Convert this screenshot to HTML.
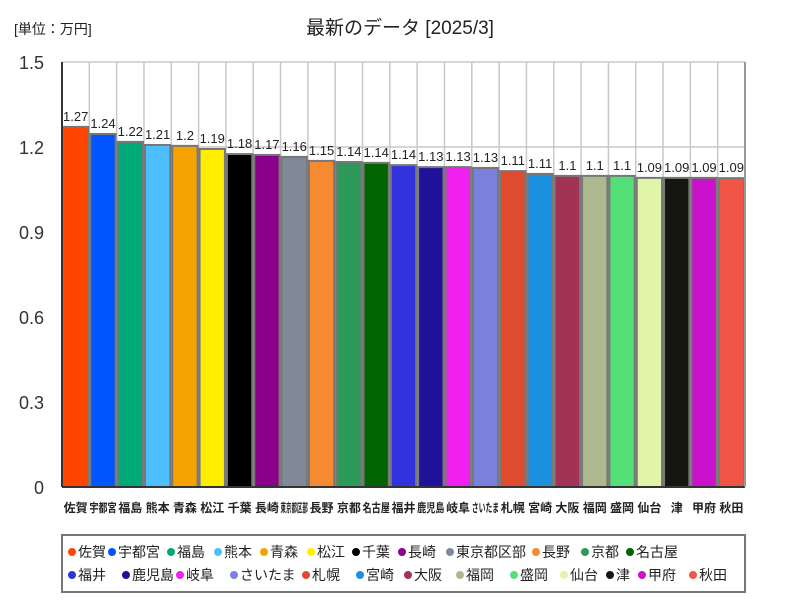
<!DOCTYPE html>
<html><head><meta charset="utf-8"><style>
body{margin:0;background:#fff;font-family:"Liberation Sans","Noto Sans CJK JP",sans-serif;}
svg text{font-family:"Liberation Sans","Noto Sans CJK JP",sans-serif;}
</style></head><body>
<svg id="c" width="800" height="600" xmlns="http://www.w3.org/2000/svg">
<text x="400" y="34" text-anchor="middle" font-size="19" fill="#222">最新のデータ [2025/3]</text>
<text x="14" y="34" font-size="14" fill="#222">[単位：万円]</text>
<g id="plot"></g>
<rect x="62" y="535" width="683" height="57" fill="#fff" stroke="#777" stroke-width="2"/>
<g id="leg"></g>
</svg>
<script>
const categories=["佐賀","宇都宮","福島","熊本","青森","松江","千葉","長崎","東京都区部","長野","京都","名古屋","福井","鹿児島","岐阜","さいたま","札幌","宮崎","大阪","福岡","盛岡","仙台","津","甲府","秋田"].slice(0,24).length?["佐賀","宇都宮","福島","熊本","青森","松江","千葉","長崎","東京都区部","長野","京都","名古屋","福井","鹿児島","岐阜","さいたま","札幌","宮崎","大阪","福岡","盛岡","仙台","津","甲府","秋田"]:[];
const values=[1.271,1.246,1.218,1.207,1.204,1.193,1.175,1.172,1.165,1.151,1.147,1.144,1.136,1.129,1.129,1.126,1.115,1.105,1.098,1.098,1.098,1.091,1.091,1.091,1.09];
const valueLabels=["1.27","1.24","1.22","1.21","1.2","1.19","1.18","1.17","1.16","1.15","1.14","1.14","1.14","1.13","1.13","1.13","1.11","1.11","1.1","1.1","1.1","1.09","1.09","1.09","1.09"];
const colors=["#ff4500","#0055ff","#00aa77","#4dbfff","#f5a300","#ffee00","#000000","#8b008b","#7f8a96","#f58a33","#2e9a5a","#006400","#3333dd","#1f1199","#f020f0","#7a80dd","#e04a2e","#1e90e0","#a33355","#aeb88e","#55e077","#e0f5a8","#161610","#cc11cc","#f05545"];
const tickVals=[0,0.3,0.6,0.9,1.2,1.5];
const tickLabels=["0","0.3","0.6","0.9","1.2","1.5"];
const NS="http://www.w3.org/2000/svg";
const X0=62,X1=745,Y0=487,Y1=62,VMAX=1.5;
const n=categories.length;
const bw=(X1-X0)/n;
const xs=i=>X0+i*bw;
const ys=v=>Y0-(v/VMAX)*(Y0-Y1);
const plot=document.getElementById('plot');
function mk(tag,attrs,parent){const e=document.createElementNS(NS,tag);for(const k in attrs)e.setAttribute(k,attrs[k]);(parent||plot).appendChild(e);return e;}
for(let i=1;i<=n;i++){const l=mk('line',{x1:xs(i),x2:xs(i),y1:Y1,y2:Y0,stroke:'#c8c8c8','stroke-width':1.5});

}
tickVals.forEach((t,i)=>{
 if(t>0){const g=mk('line',{x1:X0,x2:X1,y1:ys(t),y2:ys(t),stroke:'#c8c8c8','stroke-width':1.5});
 
 }
 const tx=mk('text',{x:44,y:ys(t)+7,'text-anchor':'end','font-size':18,fill:'#333'});
 tx.textContent=tickLabels[i];
 
 
});
for(let i=0;i<n;i++){
 const v=values[i];
 const r=mk('rect',{x:xs(i)+1,y:ys(v),width:bw-2,height:Y0-ys(v),fill:colors[i],stroke:'#777','stroke-width':2});
 
 
 const t=mk('text',{x:xs(i)+bw/2,y:ys(v)-6,'text-anchor':'middle','font-size':13,fill:'#222'});
 t.textContent=valueLabels[i];
 
 
 const c=mk('text',{x:xs(i)+bw/2,y:512,'text-anchor':'middle','font-size':12,'font-weight':'bold',fill:'#222',textLength:categories[i].length>2?bw:'', 'lengthAdjust':'spacingAndGlyphs'});
 if(categories[i].length<=2)c.removeAttribute('textLength');
 c.textContent=categories[i];
 
 
}
const ax=mk('line',{x1:X0,x2:X0,y1:Y1,y2:Y0,stroke:'#333','stroke-width':2});


const ax2=mk('line',{x1:X0,x2:X1,y1:Y0,y2:Y0,stroke:'#333','stroke-width':2});


const rb=mk('line',{x1:X1,x2:X1,y1:Y1,y2:Y0,stroke:'#999','stroke-width':2});


const leg=document.getElementById('leg');
const row1=[68,108,167,214,260,307,352,398,446,532,581,626];
const row2=[68,122,176,230,302,356,404,456,510,560,606,638,689];
for(let i=0;i<n;i++){
 const r=i<12?0:1, k=i<12?i:i-12;
 const x=r?row2[k]:row1[k], y=r?580:557;
 const d=mk('circle',{cx:x+4,cy:y-5,r:4,fill:colors[i]},leg);
 
 
 const t=mk('text',{x:x+10,y:y,'font-size':14,fill:'#222'},leg);
 t.textContent=categories[i];
 
 
}
</script>
</body></html>
